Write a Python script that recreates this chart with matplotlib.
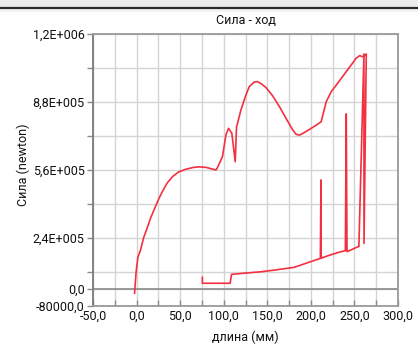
import matplotlib
matplotlib.use("Agg")
import matplotlib.pyplot as plt
from matplotlib.patches import Rectangle
from matplotlib.lines import Line2D

plt.rcParams["font.family"] = ["Roboto", "DejaVu Sans"]

# Force vs. stroke record (mm, N)
stroke_mm = [
    -2.3, -0.5, 1.5, 4.6, 8.0, 12.0, 16.0, 20.0, 25.0, 29.5, 35.0, 41.0, 48.0,
    56.0, 65.0, 72.0, 80.0, 91.0, 92.7, 98.6, 102.5, 105.5, 109.3, 113.2,
    114.7, 119.7, 125.5, 129.3, 135.0, 138.8, 143.0, 148.5, 156.0, 164.0,
    171.5, 179.0, 183.0, 186.9, 192.0, 198.4, 205.0, 211.8, 217.6, 223.3,
    232.0, 240.6, 247.0, 252.0, 256.0, 259.7,
    # unloading / return stroke
    263.6, 261.0, 260.9, 255.1, 254.0, 245.0, 241.5, 240.6, 239.6, 234.9,
    222.0, 211.8, 211.6, 210.9, 195.0, 181.0, 160.0, 142.7, 125.0, 109.0,
    107.4, 75.5, 75.5,
]
force_n = [
    -20000, 81000, 150000, 184000, 240000, 285000, 333000, 372000, 420000,
    458000, 498000, 528000, 550000, 563000, 572000, 575000, 572000, 560000,
    570000, 623000, 725000, 756000, 733000, 599000, 761000, 842000, 913000,
    952000, 974000, 976000, 966000, 948000, 910000, 858000, 803000, 750000,
    728000, 724000, 735000, 751000, 768000, 787000, 881000, 928000, 975000,
    1023000, 1058000, 1086000, 1098000, 1093000,
    1106000, 215000, 1106000, 199000, 199000, 182000, 176000, 824000,
    180000, 176000, 160000, 145000, 513000, 144000, 122000, 102000, 90000,
    81000, 75000, 69000, 27000, 27000, 55000,
]

xtick_values = [-50, 0, 50, 100, 150, 200, 250, 300]
xtick_labels = ["-50,0", "0,0", "50,0", "100,0", "150,0", "200,0", "250,0", "300,0"]
xgrid_minor = [-25, 25, 75, 125, 175, 225, 275]

ytick_values = [-80000, 0, 240000, 560000, 880000, 1200000]
ytick_labels = ["-80000,0", "0,0", "2,4E+005", "5,6E+005", "8,8E+005", "1,2E+006"]
ygrid_minor = [80000, 400000, 720000, 1040000]

W, H = 418, 349
fig = plt.figure(figsize=(W / 100, H / 100), dpi=100)
fig.patch.set_facecolor("white")

# window strip along the top edge
fig.patches.append(Rectangle((0, 1 - 7 / H), 1, 7 / H, transform=fig.transFigure,
                             facecolor="#ececec", edgecolor="none", zorder=0))
fig.patches.append(Rectangle((0, 1 - 12 / H), 1, 4 / H, transform=fig.transFigure,
                             facecolor="#f3f3f3", edgecolor="none", zorder=0))
fig.lines.append(Line2D([0, 1], [1 - 7.5 / H, 1 - 7.5 / H], transform=fig.transFigure,
                        color="#2b2b2b", linewidth=1.6))

left, right = 93 / W, 398 / W
bottom, top = 1 - 306 / H, 1 - 34 / H
ax = fig.add_axes([left, bottom, right - left, top - bottom])

ax.set_xlim(-50, 300)
ax.set_ylim(-80000, 1200000)

ax.set_xticks(xtick_values)
ax.set_xticklabels(xtick_labels)
ax.set_xticks(xgrid_minor, minor=True)
ax.set_yticks(ytick_values)
ax.set_yticklabels(ytick_labels)
ax.set_yticks(ygrid_minor, minor=True)

ax.grid(True, which="both", color="#d4d4d4", linewidth=1.0)
ax.set_axisbelow(True)
ax.axhline(0, color="#8a8a8a", linewidth=1.2, zorder=1)

ax.tick_params(axis="both", which="both", labelsize=9, colors="#8a8a8a",
               labelcolor="#111111", length=4, width=1)
ax.tick_params(axis="x", which="both", direction="in", pad=3)
ax.tick_params(axis="y", which="both", direction="out", pad=2)

for side in ["left", "right", "top", "bottom"]:
    ax.spines[side].set_color("#9a9a9a")
    ax.spines[side].set_linewidth(1.3)
ax.spines["left"].set_color("#7a7a7a")

ax.plot(stroke_mm, force_n, color="#f2303f", linewidth=1.2, solid_joinstyle="round")

ax.set_title("Сила - ход", fontsize=9, pad=7, color="#111111")
ax.set_xlabel("длина (мм)", fontsize=9, labelpad=5, color="#111111")
ax.set_ylabel("Сила (newton)", fontsize=9, color="#111111")
ax.yaxis.set_label_coords(-0.205, 0.52)

fig.savefig("out.png", dpi=100)
